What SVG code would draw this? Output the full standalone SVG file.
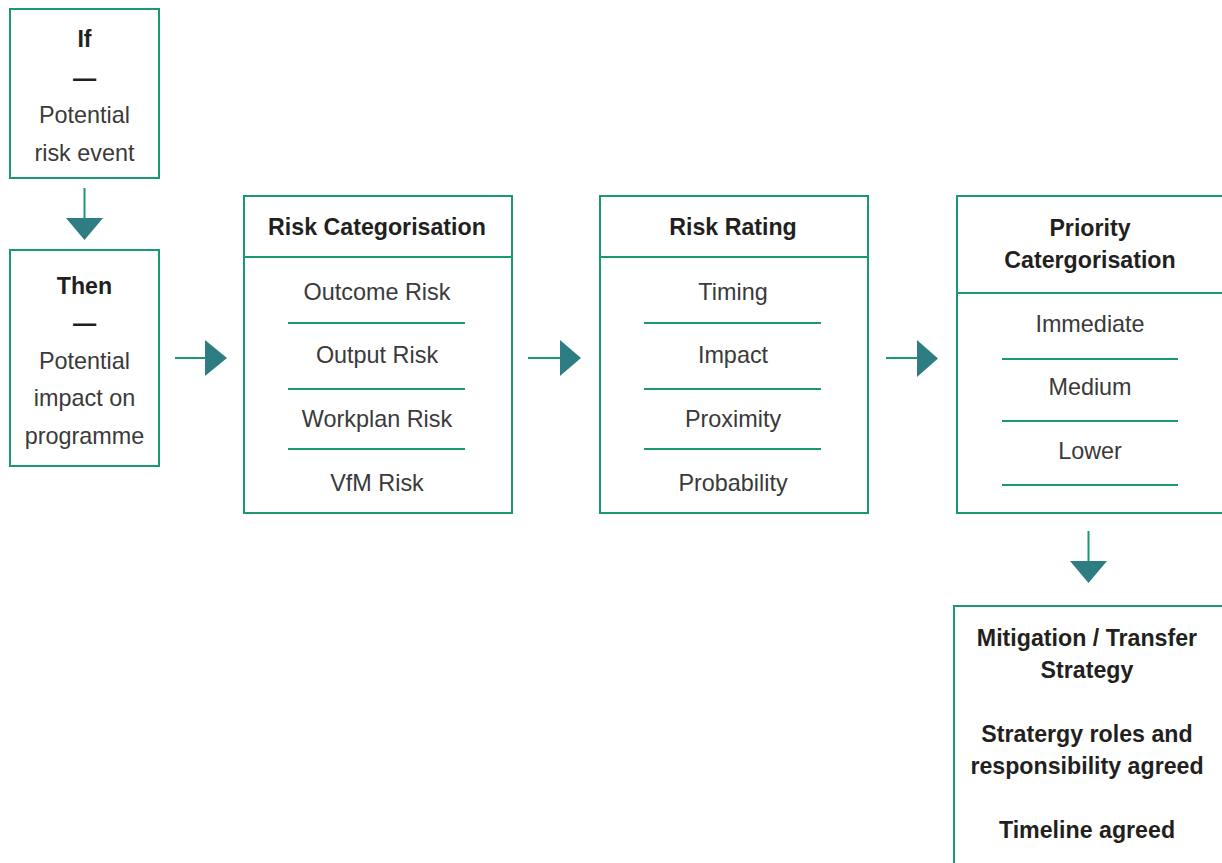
<svg xmlns="http://www.w3.org/2000/svg" width="1222" height="863" viewBox="0 0 1222 863">
<style>
.box{fill:#fff;stroke:#1a9873;stroke-width:2}
.div{stroke:#1a9873;stroke-width:2}
.con{stroke:#1a9873;stroke-width:2;fill:none}
.head{fill:#2e7d83}
text{font-family:"Liberation Sans",Arial,sans-serif;text-anchor:middle}
.b{font-weight:bold;fill:#231f20;font-size:23.2px}
.r{fill:#3a3a3a;font-size:23.4px}
</style>
<g id="if">
<rect class="box" x="10" y="9" width="149" height="169"/>
<text class="b" x="84.5" y="47">If</text>
<text class="b" x="84.5" y="86">—</text>
<text class="r" x="84.5" y="123">Potential</text>
<text class="r" x="84.5" y="161">risk event</text>
</g>
<g id="then">
<rect class="box" x="10" y="250" width="149" height="216"/>
<text class="b" x="84.5" y="294">Then</text>
<text class="b" x="84.5" y="331">—</text>
<text class="r" x="84.5" y="369">Potential</text>
<text class="r" x="84.5" y="406">impact on</text>
<text class="r" x="84.5" y="444">programme</text>
</g>
<g id="risk-categorisation">
<rect class="box" x="244" y="196" width="268" height="317"/>
<line class="div" x1="244" y1="257" x2="512" y2="257"/>
<text class="b" x="377" y="235">Risk Categorisation</text>
<text class="r" x="377" y="300">Outcome Risk</text>
<line class="div" x1="288" y1="323" x2="465" y2="323"/>
<text class="r" x="377" y="363">Output Risk</text>
<line class="div" x1="288" y1="389" x2="465" y2="389"/>
<text class="r" x="377" y="427">Workplan Risk</text>
<line class="div" x1="288" y1="449" x2="465" y2="449"/>
<text class="r" x="377" y="491">VfM Risk</text>
</g>
<g id="risk-rating">
<rect class="box" x="600" y="196" width="268" height="317"/>
<line class="div" x1="600" y1="257" x2="868" y2="257"/>
<text class="b" x="733" y="235">Risk Rating</text>
<text class="r" x="733" y="300">Timing</text>
<line class="div" x1="644" y1="323" x2="821" y2="323"/>
<text class="r" x="733" y="363">Impact</text>
<line class="div" x1="644" y1="389" x2="821" y2="389"/>
<text class="r" x="733" y="427">Proximity</text>
<line class="div" x1="644" y1="449" x2="821" y2="449"/>
<text class="r" x="733" y="491">Probability</text>
</g>
<g id="priority">
<rect class="box" x="957" y="196" width="275" height="317"/>
<line class="div" x1="957" y1="293" x2="1222" y2="293"/>
<text class="b" x="1090" y="236">Priority</text>
<text class="b" x="1090" y="268">Catergorisation</text>
<text class="r" x="1090" y="332">Immediate</text>
<line class="div" x1="1002" y1="359" x2="1178" y2="359"/>
<text class="r" x="1090" y="395">Medium</text>
<line class="div" x1="1002" y1="421" x2="1178" y2="421"/>
<text class="r" x="1090" y="459">Lower</text>
<line class="div" x1="1002" y1="485" x2="1178" y2="485"/>
</g>
<g id="mitigation">
<rect class="box" x="954" y="606" width="278" height="270"/>
<text class="b" x="1087" y="646">Mitigation / Transfer</text>
<text class="b" x="1087" y="678">Strategy</text>
<text class="b" x="1087" y="742">Stratergy roles and</text>
<text class="b" x="1087" y="774">responsibility agreed</text>
<text class="b" x="1087" y="838">Timeline agreed</text>
</g>
<g id="connectors">
<line class="con" x1="84.5" y1="188" x2="84.5" y2="219"/>
<polygon class="head" points="66,218 103,218 84.5,240"/>
<line class="con" x1="175" y1="358" x2="206" y2="358"/>
<polygon class="head" points="205,340 205,376 227,358"/>
<line class="con" x1="528" y1="358" x2="561" y2="358"/>
<polygon class="head" points="560,340 560,376 581,358"/>
<line class="con" x1="886" y1="358" x2="918" y2="358"/>
<polygon class="head" points="917,340 917,377 938,358.5"/>
<line class="con" x1="1088.5" y1="531" x2="1088.5" y2="562"/>
<polygon class="head" points="1070,561 1107,561 1088.5,583"/>
</g>
</svg>
